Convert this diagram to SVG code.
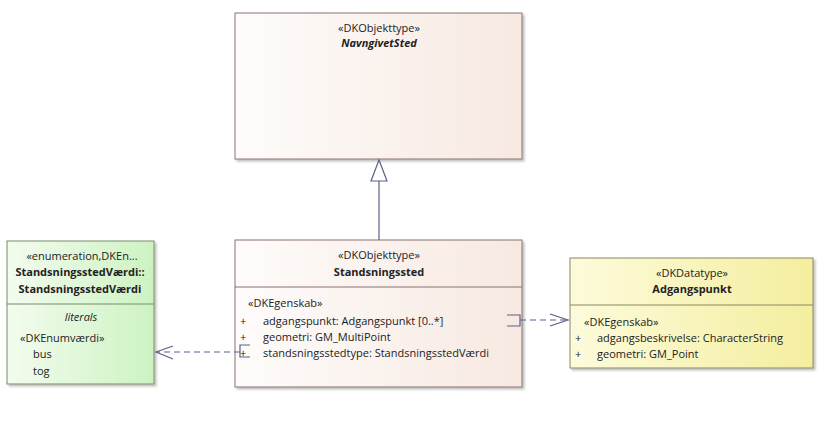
<svg xmlns="http://www.w3.org/2000/svg" width="826" height="422" viewBox="0 0 826 422">
<defs>
<linearGradient id="gb" x1="0" y1="0" x2="1" y2="0"><stop offset="0" stop-color="#fefcfb"/><stop offset="1" stop-color="#f7e9e1"/></linearGradient>
<linearGradient id="gg" x1="0" y1="0" x2="1" y2="0"><stop offset="0" stop-color="#f3fcef"/><stop offset="1" stop-color="#cdf3c2"/></linearGradient>
<linearGradient id="gy" x1="0" y1="0" x2="1" y2="0"><stop offset="0" stop-color="#fdfbdc"/><stop offset="1" stop-color="#f4ee9e"/></linearGradient>
<filter id="sh"><feDropShadow dx="2" dy="2" stdDeviation="1.2" flood-color="#000" flood-opacity="0.25"/></filter>
</defs>
<style>
text{font-family:"Open Sans","Noto Sans",sans-serif;font-size:11px;fill:#222}
.c{text-anchor:middle}
.b{font-weight:bold}
.i{font-style:italic}
.box{stroke:#8a7070;stroke-width:1}
.gr{stroke:#7a8a6a}
.ye{stroke:#8a8860}
.ln{stroke:#5a6088;fill:none;stroke-width:1.2}
.d{stroke-dasharray:6 4}
</style>
<g id="NavngivetSted">
<rect x="235" y="13" width="287" height="146" fill="url(#gb)" class="box" filter="url(#sh)"/>
<text x="379" y="32" class="c">«DKObjekttype»</text>
<text x="379" y="47" class="c b i">NavngivetSted</text>
</g>
<g id="Standsningssted">
<rect x="235" y="240" width="287" height="147" fill="url(#gb)" class="box" filter="url(#sh)"/>
<line x1="235" y1="287" x2="522" y2="287" class="box"/>
<text x="379" y="259" class="c">«DKObjekttype»</text>
<text x="379" y="276" class="c b">Standsningssted</text>
<text x="248" y="307">«DKEgenskab»</text>
<text x="240" y="325">+</text><text x="263" y="325">adgangspunkt: Adgangspunkt [0..*]</text>
<text x="240" y="341">+</text><text x="263" y="341">geometri: GM_MultiPoint</text>
<text x="240" y="357">+</text><text x="263" y="357">standsningsstedtype: StandsningsstedVærdi</text>
</g>
<g id="StandsningsstedVaerdi">
<rect x="7" y="241" width="147" height="143" fill="url(#gg)" class="box gr" filter="url(#sh)"/>
<line x1="7" y1="304" x2="154" y2="304" class="box gr"/>
<text x="82" y="260" class="c">«enumeration,DKEn...</text>
<text x="80" y="276" class="c b">StandsningsstedVærdi::</text>
<text x="80" y="293" class="c b">StandsningsstedVærdi</text>
<text x="81" y="321" class="c i">literals</text>
<text x="20" y="342">«DKEnumværdi»</text>
<text x="33" y="358">bus</text>
<text x="33" y="375">tog</text>
</g>
<g id="Adgangspunkt">
<rect x="570" y="258" width="243" height="110" fill="url(#gy)" class="box ye" filter="url(#sh)"/>
<line x1="570" y1="305" x2="813" y2="305" class="box ye"/>
<text x="692" y="277" class="c">«DKDatatype»</text>
<text x="692" y="293" class="c b">Adgangspunkt</text>
<text x="584" y="326">«DKEgenskab»</text>
<text x="575" y="342">+</text><text x="597" y="342">adgangsbeskrivelse: CharacterString</text>
<text x="575" y="358">+</text><text x="597" y="358">geometri: GM_Point</text>
</g>
<g id="connectors">
<line x1="379" y1="240" x2="379" y2="181" class="ln"/>
<polygon points="379,160 371,181 387,181" fill="#fff" class="ln"/>
<path d="M507,315 H520 V326 H507" class="ln"/>
<line x1="520" y1="320" x2="568" y2="320" class="ln d"/>
<path d="M550,314 L568,320 L550,326" class="ln"/>
<path d="M250,345 H240 V357 H250" class="ln"/>
<line x1="240" y1="352" x2="156" y2="352" class="ln d"/>
<path d="M173,346 L156,352 L173,359" class="ln"/>
</g>
</svg>
